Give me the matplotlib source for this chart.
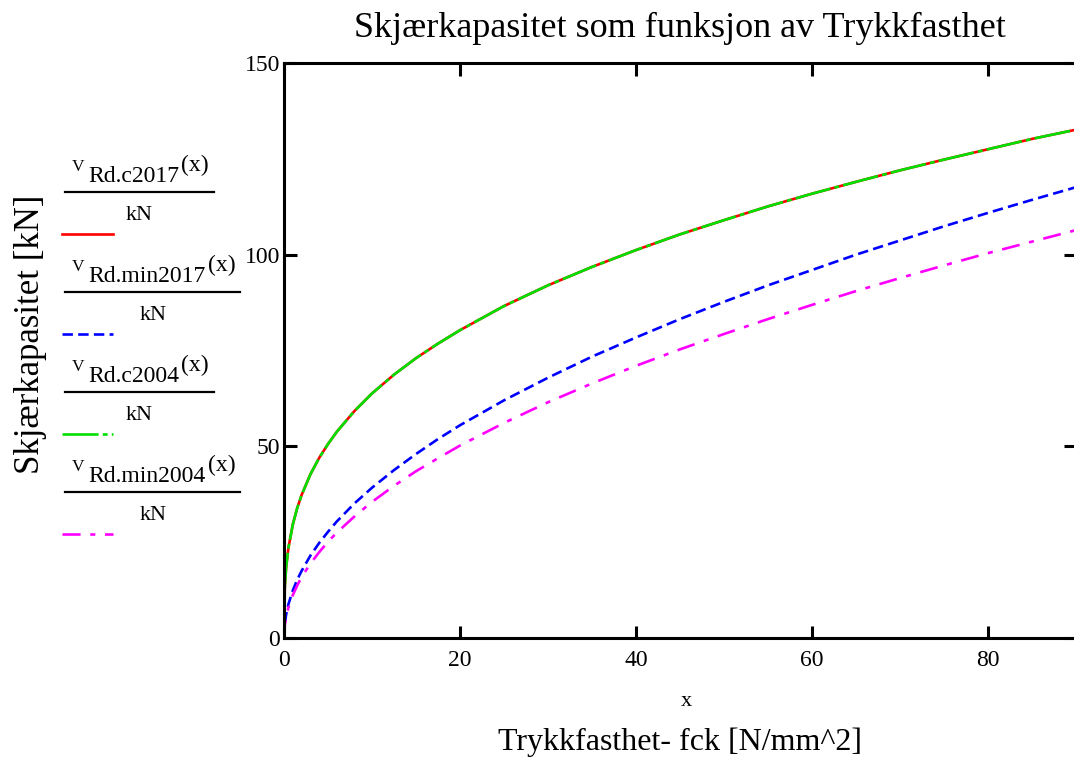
import matplotlib
matplotlib.use("Agg")
import matplotlib.pyplot as plt
from matplotlib.lines import Line2D

# Compressive strength fck [N/mm^2]
fck = [0, 0.1, 0.25, 0.5, 1, 1.5, 2, 3, 4, 5, 6, 8, 10, 12.5, 15, 17.5, 20,
       25, 30, 35, 40, 45, 50, 55, 60, 65, 70, 75, 80, 85, 90]

# Shear capacity [kN]
v_rd_c2017 = [0, 13.7, 18.6, 23.5, 29.6, 33.9, 37.3, 42.7, 47.0, 50.6, 53.8,
              59.2, 63.8, 68.7, 73.0, 76.8, 80.3, 86.6, 92.0, 96.8, 101.2,
              105.3, 109.0, 112.6, 115.9, 119.0, 122.0, 124.8, 127.5, 130.2, 132.6]
v_rd_min2017 = [0, 3.9, 6.2, 8.8, 12.4, 15.2, 17.5, 21.5, 24.8, 27.7, 30.4,
                35.1, 39.2, 43.8, 48.0, 51.9, 55.5, 62.0, 67.9, 73.4, 78.4,
                83.2, 87.7, 92.0, 96.0, 100.0, 103.7, 107.4, 110.9, 114.3, 117.6]
v_rd_c2004 = list(v_rd_c2017)
v_rd_min2004 = [0, 3.5, 5.6, 7.9, 11.2, 13.7, 15.9, 19.4, 22.4, 25.1, 27.5,
                31.7, 35.5, 39.7, 43.5, 46.9, 50.2, 56.1, 61.5, 66.4, 71.0,
                75.3, 79.3, 83.2, 86.9, 90.5, 93.9, 97.2, 100.4, 103.4, 106.4]

x_ticks = [0, 20, 40, 60, 80]
y_ticks = [0, 50, 100, 150]

legend_subs = ["Rd.c2017", "Rd.min2017", "Rd.c2004", "Rd.min2004"]

SERIF = "Liberation Serif"
plt.rcParams["font.family"] = [SERIF, "DejaVu Serif"]
plt.rcParams["lines.scale_dashes"] = False

W, H = 1074, 767
fig = plt.figure(figsize=(W / 100, H / 100), dpi=100)
fig.patch.set_facecolor("white")


def fx(x):
    return x / W


def fy(y):
    return 1 - y / H


ax = fig.add_axes([fx(284), fy(638), fx(1076) - fx(284), fy(63) - fy(638)])
ax.set_xlim(0, 90)
ax.set_ylim(0, 150)

styles = [
    dict(color="#ff0000", linestyle="-"),
    dict(color="#0000ff", linestyle=(0, (7.5, 3.8))),
    dict(color="#00e000", linestyle=(0, (26, 3, 3.5, 3))),
    dict(color="#ff00ff", linestyle=(0, (13, 7, 3.6, 7))),
]
series = [v_rd_c2017, v_rd_min2017, v_rd_c2004, v_rd_min2004]
for ys, st in zip(series, styles):
    ax.plot(fck, ys, lw=1.9, clip_on=True, **st)

ax.set_xticks(x_ticks)
ax.set_yticks(y_ticks)
ax.tick_params(direction="in", length=9, width=2.2, labelsize=17,
               top=True, right=True, labeltop=False, labelright=False)
ax.tick_params(axis="x", pad=9)
ax.tick_params(axis="y", pad=3)
for sp in ax.spines.values():
    sp.set_linewidth(2.2)

# Titles and axis labels
fig.text(fx(680), fy(37), "Skjærkapasitet som funksjon av Trykkfasthet",
         fontsize=26, ha="center", va="baseline")
fig.text(fx(686), fy(706), "x", fontsize=16, ha="center", va="baseline")
fig.text(fx(680), fy(750), "Trykkfasthet- fck [N/mm^2]",
         fontsize=23, ha="center", va="baseline")
fig.text(fx(31), fy(334), "Skjærkapasitet [kN]", fontsize=25,
         rotation=90, ha="center", va="center")

# Legend: stacked fractions V_sub(x) / kN with a line sample below each
renderer = fig.canvas.get_renderer()
for i, (sub, st) in enumerate(zip(legend_subs, styles)):
    line_y = 191.7 + 100 * i
    t_v = fig.text(fx(72), fy(line_y - 21), "V", fontsize=12.5, va="baseline")
    bb = t_v.get_window_extent(renderer)
    t_s = fig.text(bb.x1 / W + fx(4), fy(line_y - 10), sub, fontsize=17,
                   va="baseline")
    bb = t_s.get_window_extent(renderer)
    t_x = fig.text(bb.x1 / W + fx(2), fy(line_y - 21), "(x)", fontsize=17,
                   va="baseline")
    bb = t_x.get_window_extent(renderer)
    x_end = bb.x1 + 5
    fig.add_artist(Line2D([fx(65), x_end / W], [fy(line_y), fy(line_y)],
                          color="black", lw=1.6))
    fig.text((fx(65) + x_end / W) / 2, fy(line_y + 28), "kN", fontsize=16,
             ha="center", va="baseline")
    fig.add_artist(Line2D([fx(62), fx(113)], [fy(line_y + 42)] * 2,
                          lw=1.9, **st))

fig.savefig("out.png", dpi=100)
